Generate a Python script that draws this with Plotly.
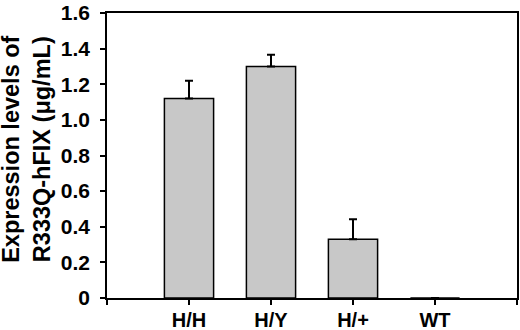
import plotly.graph_objects as go

categories = ["H/H", "H/Y", "H/+", "WT"]
values = [1.12, 1.30, 0.33, 0.0]
err_plus = [0.10, 0.066, 0.112, 0.0]
y_ticks = [0, 0.2, 0.4, 0.6, 0.8, 1.0, 1.2, 1.4, 1.6]
y_tick_labels = ["0", "0.2", "0.4", "0.6", "0.8", "1.0", "1.2", "1.4", "1.6"]
y_title = "Expression levels of<br>R333Q-hFIX (\u03bcg/mL)"

x_pos = [i + 1 for i in range(len(categories))]
x_ticks = [0] + x_pos + [len(categories) + 1]
x_tick_labels = [""] + categories + [""]

fig = go.Figure()
fig.add_trace(go.Bar(
    x=x_pos, y=values, width=0.6,
    marker=dict(color="#c8c8c8", line=dict(color="black", width=1.5)),
    error_y=dict(type="data", symmetric=False, array=err_plus,
                 arrayminus=[0] * len(values), color="black",
                 thickness=2, width=4),
    showlegend=False,
))

font_family = "Liberation Sans, Arial, sans-serif"
fig.update_layout(
    width=520, height=330,
    margin=dict(l=107, r=3, t=13, b=32),
    paper_bgcolor="white", plot_bgcolor="white",
    font=dict(family=font_family, color="black"),
    xaxis=dict(
        range=[0, len(categories) + 1], tickvals=x_ticks, ticktext=x_tick_labels,
        ticks="outside", ticklen=5, tickwidth=1.5, tickcolor="black",
        showline=True, linecolor="black", linewidth=2.2, mirror=True,
        showgrid=False, zeroline=False, layer="above traces", automargin=False,
        ticklabelstandoff=-2,
        tickfont=dict(size=20, family=font_family, color="black", weight="bold"),
    ),
    yaxis=dict(
        range=[0, 1.6], tickvals=y_ticks, ticktext=y_tick_labels,
        ticks="outside", ticklen=5, tickwidth=1.5, tickcolor="black",
        showline=True, linecolor="black", linewidth=1.5, mirror=True,
        showgrid=False, zeroline=False, ticklabelstandoff=6, automargin=False,
        tickfont=dict(size=21, family=font_family, color="black", weight="bold"),
    ),
    annotations=[dict(
        text=y_title, xref="paper", yref="paper", x=-0.195, y=0.52,
        xanchor="center", yanchor="middle", textangle=-90, showarrow=False,
        font=dict(size=23.5, family=font_family, color="black", weight="bold"),
    )],
)
fig.write_html("out.html", config={"displayModeBar": False},
               post_script="document.body.style.margin='0';document.body.style.overflow='hidden';")
